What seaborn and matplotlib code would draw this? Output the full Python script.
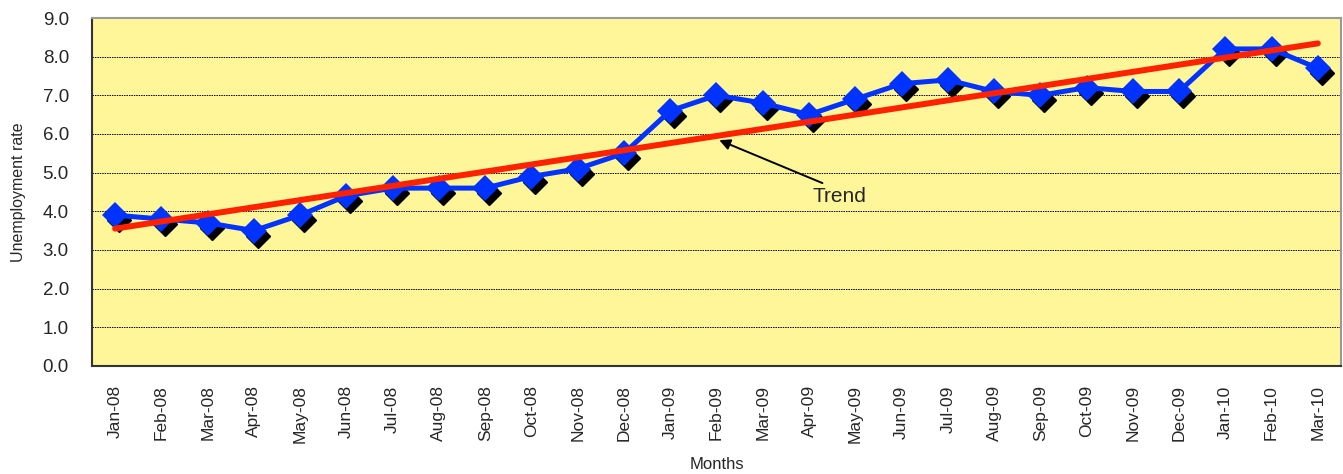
import matplotlib.pyplot as plt
import matplotlib.transforms as mtransforms
import seaborn as sns
import pandas as pd
import numpy as np

# Dados
months = ['Jan-08', 'Feb-08', 'Mar-08', 'Apr-08', 'May-08', 'Jun-08', 'Jul-08',
          'Aug-08', 'Sep-08', 'Oct-08', 'Nov-08', 'Dec-08', 'Jan-09', 'Feb-09',
          'Mar-09', 'Apr-09', 'May-09', 'Jun-09', 'Jul-09', 'Aug-09', 'Sep-09',
          'Oct-09', 'Nov-09', 'Dec-09', 'Jan-10', 'Feb-10', 'Mar-10']
rate = [3.9, 3.8, 3.7, 3.5, 3.9, 4.4, 4.6, 4.6, 4.6, 4.9, 5.1, 5.5, 6.6, 7.0,
        6.8, 6.5, 6.9, 7.3, 7.4, 7.1, 7.0, 7.2, 7.1, 7.1, 8.2, 8.2, 7.7]
y_ticks = [0, 1, 2, 3, 4, 5, 6, 7, 8, 9]

df = pd.DataFrame({'pos': np.arange(len(months)), 'Month': months, 'Rate': rate})
coef = np.polyfit(df['pos'], df['Rate'], 1)
df['Trend'] = np.polyval(coef, df['pos'])

sns.set_style("white")
plt.rcParams['font.family'] = ['Liberation Sans', 'DejaVu Sans']

fig = plt.figure(figsize=(13.43, 4.74), dpi=100)
ax = fig.add_axes([0.0685, 0.228, 0.930, 0.734])
ax.set_facecolor('#FFF599')

# sombra dos marcadores
shadow = mtransforms.offset_copy(ax.transData, fig=fig, x=4, y=-5, units='dots')
ax.plot(df['pos'], df['Rate'], linestyle='none', marker='D', markersize=12,
        color='black', transform=shadow, zorder=3)

sns.lineplot(data=df, x='pos', y='Rate', ax=ax, color='#0033FF', linewidth=3.6,
             marker='D', markersize=13, markeredgewidth=0, sort=False, zorder=4)
sns.lineplot(data=df, x='pos', y='Trend', ax=ax, color='#FF2200', linewidth=4.3,
             solid_capstyle='round', sort=False, zorder=5)

ax.set_xlim(-0.5, len(months) - 0.5)
ax.set_ylim(0, 9)
ax.set_yticks(y_ticks)
ax.set_yticklabels([f'{v:.1f}' for v in y_ticks], fontsize=13.5)
ax.set_xticks(df['pos'])
ax.set_xticklabels(months, rotation=90, fontsize=12.5)
ax.tick_params(axis='x', length=0, pad=14)
ax.set_xticks(np.arange(len(months) + 1) - 0.5, minor=True)
ax.tick_params(axis='x', which='minor', length=3.6, direction='out', color='#333333')
ax.tick_params(axis='y', length=3.6, direction='out', color='#333333', pad=13)

for y in y_ticks[1:-1]:
    ax.axhline(y, color='black', linestyle=(0, (1.5, 1)), linewidth=0.7, zorder=1)

for side in ['left', 'bottom']:
    ax.spines[side].set_color('#333333')
    ax.spines[side].set_linewidth(1.5)
for side in ['top', 'right']:
    ax.spines[side].set_color('#999999')
    ax.spines[side].set_linewidth(1.5)

ax.set_xlabel('Months', fontsize=12, labelpad=10)
ax.set_ylabel('Unemployment rate', fontsize=11.5, labelpad=12)

ax.text(15.65, 4.37, 'Trend', fontsize=15, ha='center', va='center')
ax.annotate('', xy=(13.06, 5.84), xytext=(15.29, 4.73),
            arrowprops=dict(arrowstyle='-|>', color='black', lw=1.4,
                            mutation_scale=16, shrinkA=0, shrinkB=0))

plt.savefig('out.png', dpi=100)
plt.close()
